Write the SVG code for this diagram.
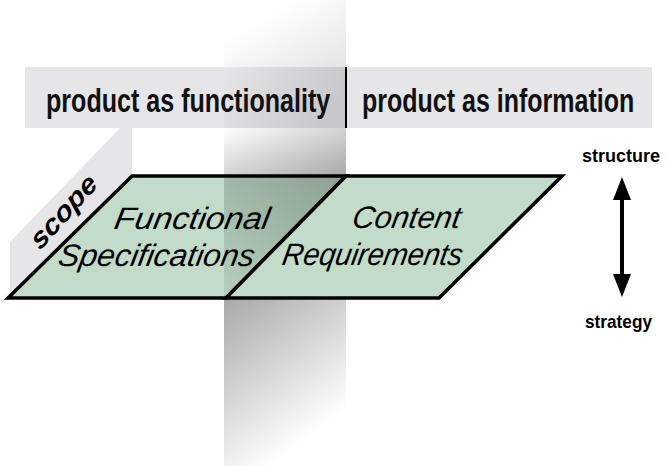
<svg xmlns="http://www.w3.org/2000/svg" width="668" height="466" viewBox="0 0 668 466">
  <style>
    .band { fill: #e6e6e8; }
    .hdr { font-family: "Liberation Sans", Arial, sans-serif; font-weight: bold; font-size: 34px; fill: #111; }
    .plane { fill: #c3dbc9; }
    .edge { fill: none; stroke: #000; stroke-width: 3.5; stroke-linejoin: miter; }
    .lbl { font-family: "Liberation Sans", Arial, sans-serif; font-style: italic; font-size: 31px; fill: #000; }
    .axis { font-family: "Liberation Sans", Arial, sans-serif; font-weight: bold; font-size: 19px; fill: #000; }
    .scope { font-family: "Liberation Sans", Arial, sans-serif; font-weight: bold; font-style: italic; font-size: 27px; fill: #000; }
  </style>
  <defs>
    <linearGradient id="gTop" x1="0" y1="0" x2="1" y2="1">
      <stop offset="0.3" stop-color="#ffffff"/>
      <stop offset="1" stop-color="#e4e4e4"/>
    </linearGradient>
    <linearGradient id="gHdr" x1="0" y1="0" x2="1" y2="0.3">
      <stop offset="0" stop-color="#e6e6e8"/>
      <stop offset="1" stop-color="#c8c8ca"/>
    </linearGradient>
    <linearGradient id="gMid" x1="0" y1="0" x2="1" y2="1">
      <stop offset="0" stop-color="#ffffff"/>
      <stop offset="1" stop-color="#a8a8a8"/>
    </linearGradient>
    <linearGradient id="gOver" gradientUnits="userSpaceOnUse" x1="226" y1="290" x2="340" y2="178">
      <stop offset="0" stop-color="#b6cdbb"/>
      <stop offset="1" stop-color="#8da290"/>
    </linearGradient>
    <linearGradient id="gLow" gradientUnits="userSpaceOnUse" x1="224" y1="298" x2="346" y2="460">
      <stop offset="0" stop-color="#a8a8a8"/>
      <stop offset="0.8" stop-color="#ffffff"/>
    </linearGradient>
  </defs>

  <rect width="668" height="466" fill="#ffffff"/>

  <!-- vertical shadow plane above header -->
  <rect x="224" y="0" width="122" height="67" fill="url(#gTop)"/>

  <g id="header-functionality">
    <rect class="band" x="25" y="67" width="321" height="61"/>
    <rect x="224" y="67" width="122" height="61" fill="url(#gHdr)"/>
    <text class="hdr" transform="translate(46,112) scale(0.75,1)" textLength="379" lengthAdjust="spacingAndGlyphs">product as functionality</text>
  </g>
  <g id="header-information">
    <rect class="band" x="346" y="67" width="306" height="61"/>
    <text class="hdr" transform="translate(362,112) scale(0.75,1)" textLength="363" lengthAdjust="spacingAndGlyphs">product as information</text>
  </g>
  <line x1="346" y1="67" x2="346" y2="128" stroke="#000" stroke-width="2"/>

  <!-- shadow strip between header and plane, and below plane -->
  <rect x="224" y="128" width="122" height="48" fill="url(#gMid)"/>
  <rect x="224" y="298" width="122" height="168" fill="url(#gLow)"/>

  <g id="scope-wall">
    <polygon class="band" points="10,242 120,128 132,128 132,176 8,298 10,298"/>
    <text class="scope" transform="translate(40,251) rotate(-48) skewX(-8)" textLength="88" lengthAdjust="spacingAndGlyphs">scope</text>
  </g>

  <g id="functional-specifications">
    <polygon class="plane" points="8,298 132,176 346,176 226,298"/>
    <polygon points="224,176 346,176 226,298 224,298" fill="url(#gOver)"/>
    <polygon class="edge" points="8,298 132,176 346,176 226,298"/>
    <text class="lbl" transform="translate(113,229) skewX(-10)" textLength="155" lengthAdjust="spacingAndGlyphs">Functional</text>
    <text class="lbl" transform="translate(57,266) skewX(-10)" textLength="196" lengthAdjust="spacingAndGlyphs">Specifications</text>
  </g>

  <g id="content-requirements">
    <polygon class="plane" points="226,298 346,176 562,176 439,298"/>
    <polygon class="edge" points="226,298 346,176 562,176 439,298"/>
    <text class="lbl" transform="translate(351,228) skewX(-10)" textLength="108" lengthAdjust="spacingAndGlyphs">Content</text>
    <text class="lbl" transform="translate(281,265) skewX(-10)" textLength="180" lengthAdjust="spacingAndGlyphs">Requirements</text>
  </g>

  <g id="structure-label">
    <text class="axis" transform="translate(582,162) scale(0.95,1)" textLength="82" lengthAdjust="spacingAndGlyphs">structure</text>
  </g>
  <g id="strategy-label">
    <text class="axis" transform="translate(585,328) scale(0.95,1)" textLength="70.5" lengthAdjust="spacingAndGlyphs">strategy</text>
  </g>

  <g id="connectors">
    <line x1="622" y1="195" x2="622" y2="280" stroke="#000" stroke-width="4"/>
    <polygon points="622,177 613,200 631,200" fill="#000"/>
    <polygon points="622,297 613,274 631,274" fill="#000"/>
  </g>
</svg>
